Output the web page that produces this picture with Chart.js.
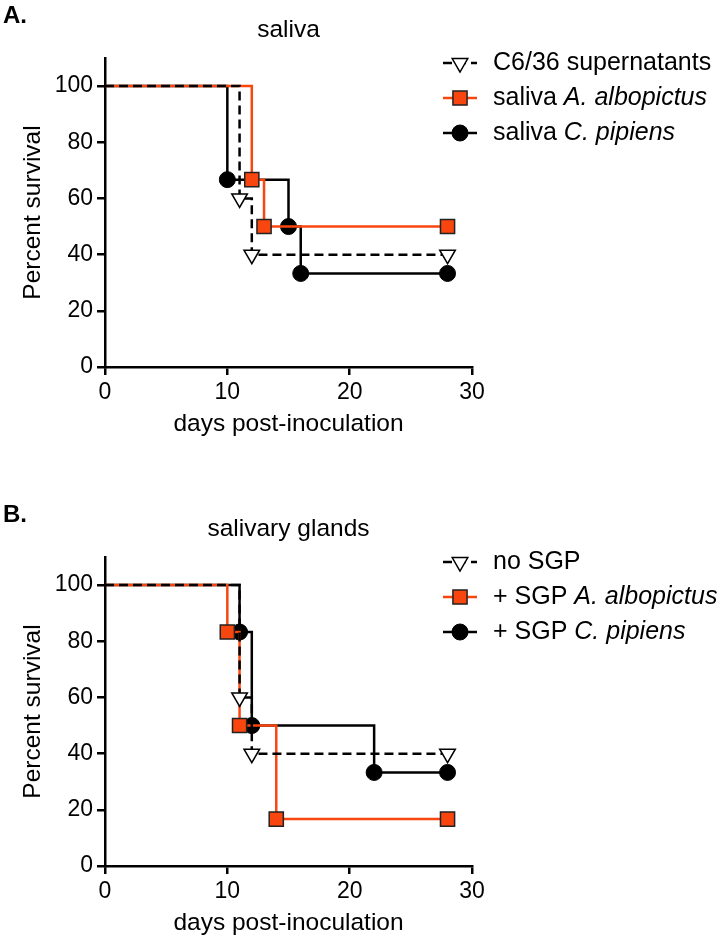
<!DOCTYPE html>
<html>
<head>
<meta charset="utf-8">
<script src="https://cdn.jsdelivr.net/npm/chart.js@4.4.1/dist/chart.umd.min.js"></script>
<style>
  html, body { margin: 0; padding: 0; background: #fff; overflow: hidden; }
  .panel { position: absolute; left: 0; width: 720px; height: 470px; }
  #panelA { top: 0; }
  #panelB { top: 499px; }
</style>
</head>
<body>
<div class="panel" id="panelA"><canvas id="chartA" width="720" height="470"></canvas></div>
<div class="panel" id="panelB"><canvas id="chartB" width="720" height="470"></canvas></div>
<script>
// --- data (Kaplan-Meier steps) ---
const xTicks = [0, 10, 20, 30];
const yTicks = [0, 20, 40, 60, 80, 100];
const xTitle = 'days post-inoculation';
const yTitle = 'Percent survival';

// panel A: saliva
const titleA = 'saliva';
const daysA_c636 = [0, 11, 12, 28];
const survA_c636 = [100, 60, 40, 40];
const daysA_alb  = [0, 12, 13, 28];
const survA_alb  = [100, 66.7, 50, 50];
const daysA_pip  = [0, 10, 15, 16, 28];
const survA_pip  = [100, 66.7, 50, 33.3, 33.3];
const labelsA = [
  [['C6/36 supernatants', false]],
  [['saliva ', false], ['A. albopictus', true]],
  [['saliva ', false], ['C. pipiens', true]]
];

// panel B: salivary glands
const titleB = 'salivary glands';
const daysB_no  = [0, 11, 12, 28];
const survB_no  = [100, 60, 40, 40];
const daysB_alb = [0, 10, 11, 14, 28];
const survB_alb = [100, 83.3, 50, 16.7, 16.7];
const daysB_pip = [0, 11, 12, 22, 28];
const survB_pip = [100, 83.3, 50, 33.3, 33.3];
const labelsB = [
  [['no SGP', false]],
  [['+ SGP ', false], ['A. albopictus', true]],
  [['+ SGP ', false], ['C. pipiens', true]]
];

const FONT = 'Arial, "Liberation Sans", Helvetica, sans-serif';
const ORANGE = '#F9460F';

Chart.defaults.animation = false;

function pts(xs, ys) { return xs.map((x, i) => ({ x: x, y: ys[i] })); }

// no marker on the starting point at day 0
function markerSize(r) { return ctx => (ctx.dataIndex === 0 ? 0 : r); }

function controlSet(xs, ys) {
  return {
    data: pts(xs, ys), stepped: 'before',
    borderColor: '#000', borderWidth: 2.5, borderDash: [9, 5],
    pointStyle: 'triangle', pointRotation: 180, markerSize: 9,
    pointRadius: markerSize(9), pointBackgroundColor: '#fff',
    pointBorderColor: '#000', pointBorderWidth: 1.5
  };
}
function albSet(xs, ys) {
  return {
    data: pts(xs, ys), stepped: 'before',
    borderColor: ORANGE, borderWidth: 2.5,
    pointStyle: 'rect', markerSize: 10,
    pointRadius: markerSize(10), pointBackgroundColor: ORANGE,
    pointBorderColor: '#222', pointBorderWidth: 1.5
  };
}
function pipSet(xs, ys) {
  return {
    data: pts(xs, ys), stepped: 'before',
    borderColor: '#000', borderWidth: 2.5,
    pointStyle: 'circle', markerSize: 8,
    pointRadius: markerSize(8), pointBackgroundColor: '#000',
    pointBorderColor: '#000', pointBorderWidth: 1
  };
}

// panel letter, title and the legend with italic species names
const panelDecor = {
  id: 'panelDecor',
  afterDraw(chart, args, opts) {
    const ctx = chart.ctx;
    const ca = chart.chartArea;
    ctx.save();
    ctx.fillStyle = '#000';
    ctx.textBaseline = 'middle';
    ctx.textAlign = 'left';
    ctx.font = 'bold 24px ' + FONT;
    ctx.fillText(opts.letter, 3, 16);
    ctx.font = '24.5px ' + FONT;
    ctx.textAlign = 'center';
    ctx.fillText(opts.title, (ca.left + ca.right) / 2, 30);

    chart.data.datasets.forEach((ds, i) => {
      const y = 63 + i * 35;
      const x0 = ca.right - 29, x1 = ca.right + 5;
      ctx.strokeStyle = ds.borderColor;
      ctx.lineWidth = ds.borderWidth;
      ctx.setLineDash(ds.borderDash || []);
      ctx.beginPath(); ctx.moveTo(x0, y); ctx.lineTo(x1, y); ctx.stroke();
      ctx.setLineDash([]);
      ctx.fillStyle = ds.pointBackgroundColor;
      ctx.strokeStyle = ds.pointBorderColor;
      ctx.lineWidth = ds.pointBorderWidth;
      Chart.helpers.drawPoint(ctx, {
        pointStyle: ds.pointStyle, radius: ds.markerSize,
        rotation: ds.pointRotation || 0, borderWidth: ds.pointBorderWidth
      }, (x0 + x1) / 2, y);

      let x = ca.right + 21;
      ctx.fillStyle = '#000';
      ctx.textAlign = 'left';
      opts.labels[i].forEach(([txt, it]) => {
        ctx.font = (it ? 'italic ' : '') + '25px ' + FONT;
        ctx.fillText(txt, x, y);
        x += ctx.measureText(txt).width;
      });
    });
    ctx.restore();
  }
};

function axisOpts(isX) {
  return {
    type: 'linear',
    min: 0,
    max: isX ? 30 : 110,
    afterBuildTicks: s => { s.ticks = (isX ? xTicks : yTicks).map(v => ({ value: v })); },
    afterFit: s => { if (isX) s.height = 103; else s.width = 105; },
    ticks: {
      color: '#000', font: { size: 23, family: FONT },
      padding: 4, autoSkip: false, maxRotation: 0
    },
    grid: { drawOnChartArea: false, drawTicks: true, tickLength: 8, color: '#000', lineWidth: 2.5 },
    border: { color: '#000', width: 2.5 },
    title: {
      display: true, text: isX ? xTitle : yTitle, color: '#000',
      font: { size: 24.5, family: FONT },
      padding: isX ? { top: 0, bottom: 31 } : { top: 19, bottom: 0 }
    }
  };
}

function makePanel(id, letter, title, labels, datasets) {
  new Chart(document.getElementById(id), {
    type: 'line',
    data: { datasets: datasets },
    plugins: [panelDecor],
    options: {
      responsive: false,
      animation: false,
      events: [],
      layout: { padding: { left: 0, right: 248, top: 58, bottom: 0 } },
      scales: { x: axisOpts(true), y: axisOpts(false) },
      plugins: {
        legend: { display: false },
        tooltip: { enabled: false },
        title: { display: false },
        panelDecor: { letter: letter, title: title, labels: labels }
      }
    }
  });
}

makePanel('chartA', 'A.', titleA, labelsA, [
  controlSet(daysA_c636, survA_c636),
  albSet(daysA_alb, survA_alb),
  pipSet(daysA_pip, survA_pip)
]);
makePanel('chartB', 'B.', titleB, labelsB, [
  controlSet(daysB_no, survB_no),
  albSet(daysB_alb, survB_alb),
  pipSet(daysB_pip, survB_pip)
]);
</script>
</body>
</html>
